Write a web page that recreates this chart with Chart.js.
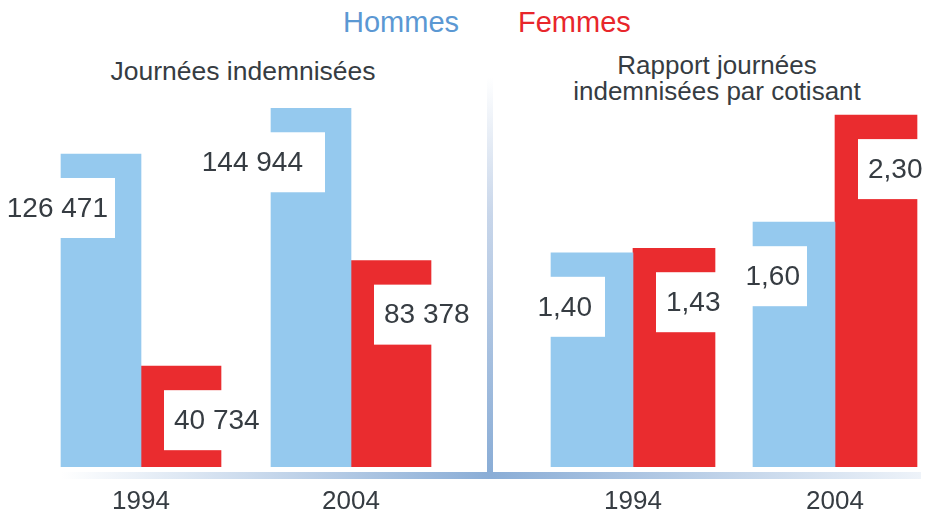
<!DOCTYPE html>
<html lang="fr">
<head>
<meta charset="utf-8">
<title>Journées indemnisées</title>
<script src="https://cdn.jsdelivr.net/npm/chart.js@4/dist/chart.umd.min.js"></script>
<style>
  html, body { margin: 0; padding: 0; background: #fff; }
  body { width: 936px; height: 514px; position: relative; overflow: hidden;
         font-family: "Liberation Sans", Arial, sans-serif; color: #363c42; }
  canvas { position: absolute; top: 0; }
  #chartJournees { left: 0; }
  #chartRapport { left: 490px; }
  .txt { position: absolute; white-space: nowrap; line-height: 1; }
  .center { text-align: center; }
  .band { position: absolute; left: 61px; top: 472px; width: 860px; height: 7px;
          background: linear-gradient(to right, #fff 0%, #8aadd6 50%, #eef3f9 100%); }
  .divider { position: absolute; left: 487px; top: 77px; width: 6px; height: 395px;
             background: linear-gradient(to bottom, #fff 0%, #c8d6ea 35%, #8aadd6 100%); }
</style>
</head>
<body>
<div class="band"></div>
<div class="divider"></div>

<div class="txt" style="left:343px; top:8px; font-size:29px; color:#5b98d3;">Hommes</div>
<div class="txt" style="left:518px; top:8px; font-size:29px; color:#e8262b;">Femmes</div>
<div class="txt center" style="left:43px; width:400px; top:58px; font-size:26.5px;">Journées indemnisées</div>
<div class="txt center" style="left:517px; width:400px; top:52px; font-size:26px; line-height:26px;">Rapport journées<br>indemnisées par cotisant</div>

<canvas id="chartJournees" width="490" height="514"></canvas>
<canvas id="chartRapport" width="446" height="514"></canvas>

<script>
"use strict";

const years = ['1994', '2004'];
const journeesHommes = [126471, 144944];
const journeesFemmes = [40734, 83378];
const rapportHommes = [1.40, 1.60];
const rapportFemmes = [1.43, 2.30];

const FONT = '"Liberation Sans", Arial, sans-serif';
const TEXT = '#363c42';
const BLUE = '#95c9ee';
const RED  = '#ea2c2f';

const fmtJours = v => String(v).replace(/\B(?=(\d{3})+(?!\d))/g, ' ');
const fmtRapport = v => v.toFixed(2).replace('.', ',');

// white boxes with the value, cut into the top of each bar
// shift: horizontal text nudge for the Hommes labels, per year
function valueBoxes(fmt, shift) {
  return {
    id: 'valueBoxes',
    afterDatasetsDraw(chart) {
      const ctx = chart.ctx;
      ctx.save();
      ctx.font = '28px ' + FONT;
      ctx.textBaseline = 'middle';
      chart.data.datasets.forEach((ds, di) => {
        chart.getDatasetMeta(di).data.forEach((bar, i) => {
          const txt = fmt(ds.data[i]);
          const w = ctx.measureText(txt).width;
          const left = bar.x - bar.width / 2;
          const top = bar.y + 24, h = 60;
          ctx.fillStyle = '#fff';
          if (di === 0) {
            const right = left + 54;
            const tx = right - 7 + shift[i];
            ctx.fillRect(tx - w - 8, top, right - tx + w + 8, h);
            ctx.fillStyle = TEXT;
            ctx.textAlign = 'right';
            ctx.fillText(txt, tx, top + h / 2 + 1);
          } else {
            const bx = left + 23;
            ctx.fillRect(bx, top, w + 20, h);
            ctx.fillStyle = TEXT;
            ctx.textAlign = 'left';
            ctx.fillText(txt, bx + 10, top + h / 2 + 1);
          }
        });
      });
      ctx.restore();
    }
  };
}

function makeChart(id, hommes, femmes, opts) {
  return new Chart(document.getElementById(id), {
    type: 'bar',
    data: {
      labels: years,
      datasets: [
        { label: 'Hommes', data: hommes, backgroundColor: BLUE, barThickness: opts.bar },
        { label: 'Femmes', data: femmes, backgroundColor: RED, barThickness: opts.bar }
      ]
    },
    options: {
      responsive: false,
      animation: false,
      devicePixelRatio: 1,
      layout: { padding: { top: opts.top, left: opts.left, right: opts.right, bottom: 0 } },
      plugins: { legend: { display: false }, tooltip: { enabled: false } },
      scales: {
        x: {
          grid: { display: false, drawTicks: false },
          border: { display: false },
          ticks: { color: TEXT, font: { family: FONT, size: 26 }, padding: 19 },
          afterFit: s => { s.height = 47; }
        },
        y: { display: false, min: 0, max: opts.max }
      }
    },
    plugins: [valueBoxes(opts.fmt, opts.shift)]
  });
}

makeChart('chartJournees', journeesHommes, journeesFemmes,
  { max: 160000, top: 71, left: 36, right: 34, bar: 80, fmt: fmtJours, shift: [0, -15] });
makeChart('chartRapport', rapportHommes, rapportFemmes,
  { max: 2.6, top: 69.2, left: 42, right: 0, bar: 82, fmt: fmtRapport, shift: [-6, 0] });
</script>
</body>
</html>
